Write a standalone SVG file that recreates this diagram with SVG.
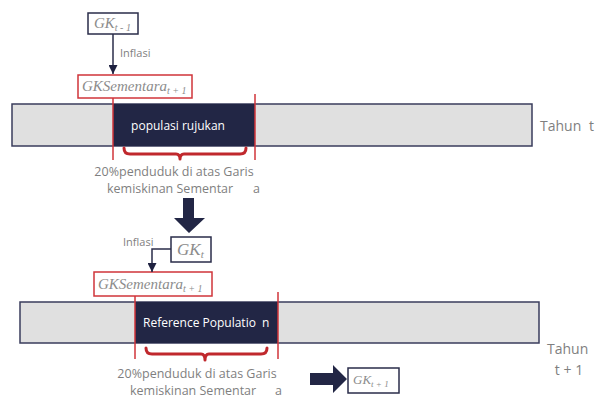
<svg xmlns="http://www.w3.org/2000/svg" width="598" height="398" viewBox="0 0 598 398">
<defs>
<style>
.lbl{font-family:"Open Sans","Liberation Sans",sans-serif;fill:#7f7f7f;}
.math{font-family:"Liberation Serif","DejaVu Serif",serif;font-style:italic;fill:#8c8c8c;}
.bar{fill:#e0e0e0;stroke:#3a3d5c;stroke-width:1.5;}
.dark{fill:#222645;}
.red{fill:#fff;stroke:#d0343a;stroke-width:1.5;}
.navybox{fill:#fff;stroke:#2a2d4a;stroke-width:1.5;}
.rline{stroke:#d0343a;stroke-width:1.5;fill:none;}
.brace{stroke:#c0282d;stroke-width:3;fill:none;stroke-linejoin:round;stroke-linecap:round;}
.conn{stroke:#2a2d4a;stroke-width:1.5;fill:none;}
</style>
<marker id="ah" viewBox="0 0 10 10" refX="10" refY="5" markerWidth="6" markerHeight="6" markerUnits="strokeWidth" orient="auto"><path d="M0,0 L10,5 L0,10 z" fill="#1e2140"/></marker>
</defs>

<g id="bar1">
<rect class="bar" x="12" y="104" width="520" height="42"/>
<rect class="dark" x="113" y="104" width="142" height="42"/>
<text class="lbl" x="178" y="130" font-size="12" style="fill:#fff" text-anchor="middle">populasi rujukan</text>
</g>
<g id="tahun-t"><text class="lbl" x="540" y="131" font-size="14">Tahun<tspan x="589">t</tspan></text></g>

<g id="gk-tm1">
<rect class="navybox" x="88" y="13" width="50" height="21"/>
<text class="math" x="94" y="28" font-size="15">GK<tspan font-size="10" dy="3">t - 1</tspan></text>
</g>
<g id="gksem1">
<rect class="red" x="78" y="75" width="114" height="23"/>
<text class="math" x="82" y="91" font-size="15">GKSementara<tspan font-size="10" dy="3">t + 1</tspan></text>
</g>

<g id="bar2">
<rect class="bar" x="20" y="302" width="519" height="41"/>
<rect class="dark" x="135" y="302" width="143" height="41"/>
<text class="lbl" x="143" y="327" font-size="12" style="fill:#fff">Reference Populatio<tspan x="262">n</tspan></text>
</g>
<g id="tahun-t1">
<text class="lbl" x="547" y="354" font-size="14">Tahun</text>
<text class="lbl" x="569" y="375" font-size="14" text-anchor="middle">t + 1</text>
</g>

<g id="gk-t">
<rect class="navybox" x="171" y="237" width="40" height="25"/>
<text class="math" x="177" y="255" font-size="17">GK<tspan font-size="11" dy="3">t</tspan></text>
</g>
<g id="gksem2">
<rect class="red" x="94" y="272" width="118" height="24"/>
<text class="math" x="98" y="289" font-size="15">GKSementara<tspan font-size="10" dy="3">t + 1</tspan></text>
</g>

<g id="gk-t1">
<rect class="navybox" x="348" y="368" width="51" height="25"/>
<text class="math" x="353" y="384" font-size="13">GK<tspan font-size="9" dy="3">t + 1</tspan></text>
</g>

<g id="note1">
<text class="lbl" x="174" y="176" font-size="12.5" text-anchor="middle">20%penduduk di atas Garis</text>
<text class="lbl" x="107" y="193" font-size="12.5">kemiskinan Sementar<tspan x="253">a</tspan></text>
</g>
<g id="note2">
<text class="lbl" x="197" y="378" font-size="12.5" text-anchor="middle">20%penduduk di atas Garis</text>
<text class="lbl" x="130" y="395" font-size="12.5">kemiskinan Sementar<tspan x="275">a</tspan></text>
</g>

<g id="connectors">
<line class="conn" x1="113" y1="34" x2="113" y2="74" marker-end="url(#ah)"/>
<text class="lbl" x="120" y="57" font-size="11">Inflasi</text>
<path class="conn" d="M171,249 H152 V272" marker-end="url(#ah)"/>
<text class="lbl" x="123" y="246" font-size="11">Inflasi</text>
<line class="rline" x1="113" y1="98" x2="113" y2="160"/>
<line class="rline" x1="255" y1="94" x2="255" y2="160"/>
<line class="rline" x1="135" y1="296" x2="135" y2="359"/>
<line class="rline" x1="278" y1="292" x2="278" y2="359"/>
<path class="brace" d="M124,148 Q124,154 130,154 H176 Q180,154 180,159 Q180,154 184,154 H240 Q246,154 246,148"/>
<path class="brace" d="M146,348 Q146,354 152,354 H201 Q205,354 205,360 Q205,354 209,354 H261 Q267,354 267,348"/>
<path class="dark" d="M183,198 H194 V218 H205 L189,233 L174,218 H183 Z"/>
<path class="dark" d="M310,373 H333 V365 L347,379 L333,393 V385 H310 Z"/>
</g>
</svg>
